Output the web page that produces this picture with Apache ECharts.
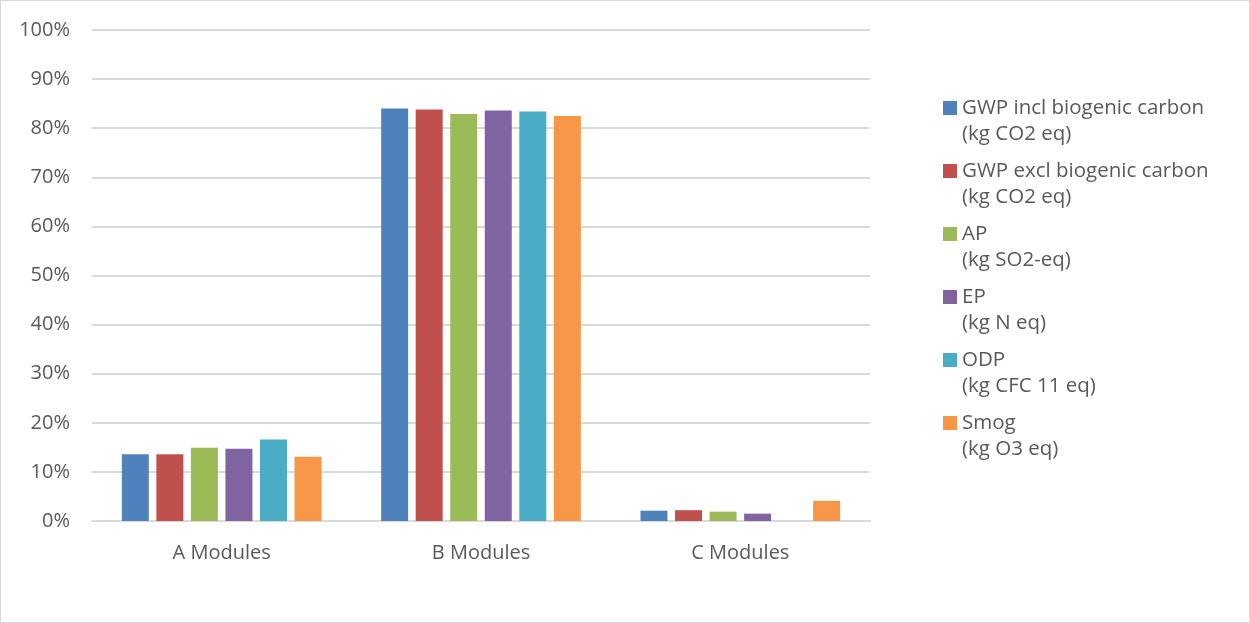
<!DOCTYPE html>
<html>
<head>
<meta charset="utf-8">
<script src="https://cdn.jsdelivr.net/npm/echarts@6/dist/echarts.min.js"></script>
<style>
  html, body { margin: 0; padding: 0; background: #fff; }
  #chart { width: 1248px; height: 621px; border: 1px solid #d9d9d9; }
</style>
</head>
<body>
<div id="chart"></div>
<script>
// categories and series (share of total, %)
let modules = ['A Modules', 'B Modules', 'C Modules'];
let names = [
  'GWP incl biogenic carbon\n(kg CO2 eq)',
  'GWP excl biogenic carbon\n(kg CO2 eq)',
  'AP\n(kg SO2-eq)',
  'EP\n(kg N eq)',
  'ODP\n(kg CFC 11 eq)',
  'Smog\n(kg O3 eq)'
];
let gwpIncl = [13.6, 84.0, 2.1];
let gwpExcl = [13.6, 83.8, 2.2];
let ap = [14.9, 82.9, 1.9];
let ep = [14.7, 83.6, 1.5];
let odp = [16.6, 83.4, 0];
let smog = [13.1, 82.5, 4.1];
let colors = ['#4f81bd', '#c0504d', '#9bbb59', '#8064a2', '#4bacc6', '#f79646'];

let allData = [gwpIncl, gwpExcl, ap, ep, odp, smog];
let font = 'Open Sans';

let myChart = echarts.init(document.getElementById('chart'));

let series = [];
allData.forEach(function (d, i) {
    series.push({
        name: names[i],
        type: 'bar',
        data: d,
        barGap: '28%',
        barCategoryGap: '23%',
        itemStyle: { color: colors[i] }
    });
});

option = {
    animation: false,
    color: colors,
    grid: {
        left: 91,
        top: 29,
        width: 778,
        height: 491
    },
    legend: {
        orient: 'vertical',
        left: 937,
        top: 63,
        itemWidth: 14,
        itemHeight: 14,
        itemGap: -15,
        icon: 'rect',
        // blank first line so the icon sits next to the first text line
        formatter: function (n) { return ' \n' + n; },
        textStyle: {
            fontFamily: font,
            fontSize: 20.5,
            color: '#595959',
            lineHeight: 26
        },
        data: names
    },
    xAxis: {
        type: 'category',
        data: modules,
        axisTick: { show: false },
        axisLine: { lineStyle: { color: '#d9d9d9', width: 2 } },
        axisLabel: {
            fontFamily: font,
            fontSize: 20,
            color: '#595959',
            margin: 22
        }
    },
    yAxis: {
        type: 'value',
        min: 0,
        max: 100,
        interval: 10,
        axisLine: { show: false },
        axisTick: { show: false },
        splitLine: { lineStyle: { color: '#d9d9d9', width: 2 } },
        axisLabel: {
            fontFamily: font,
            fontSize: 20,
            color: '#595959',
            margin: 22,
            formatter: '{value}%'
        }
    },
    series: series
};
myChart.setOption(option);
</script>
</body>
</html>
